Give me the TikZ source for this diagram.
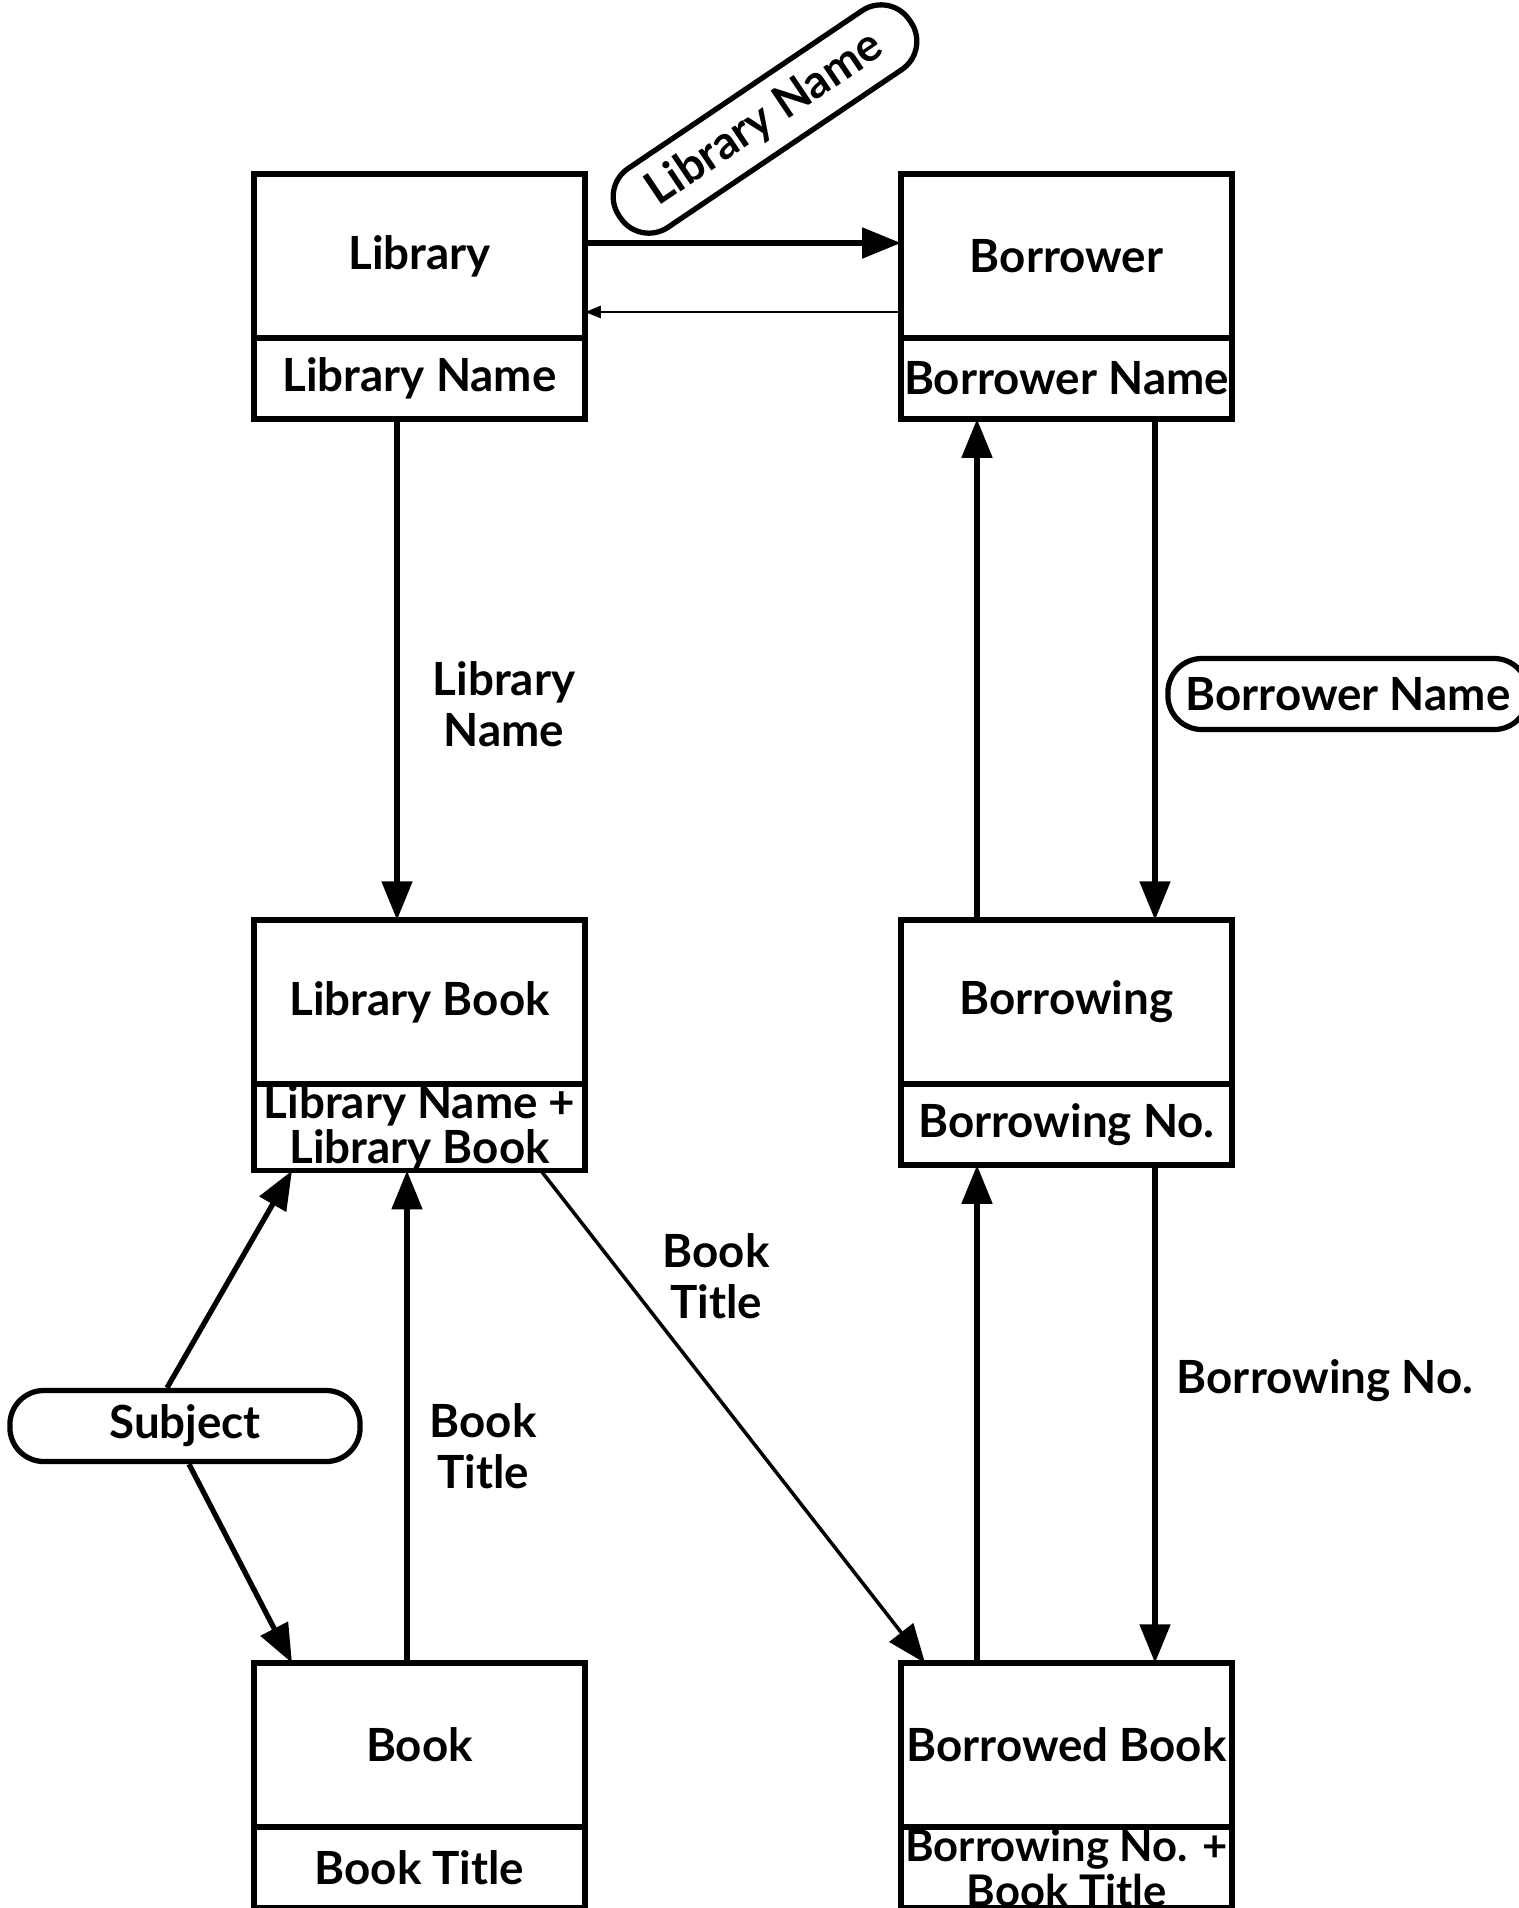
\documentclass[tikz,border=0pt]{standalone}
\usepackage{fontspec}
\setmainfont{Lato}
\usetikzlibrary{positioning,arrows.meta}

\begin{document}
\begin{tikzpicture}[x=0.01cm, y=-0.01cm,
    entity/.style = {draw, line width=1.5pt, outer sep=0pt, inner sep=0pt,
      minimum width=3.31cm, minimum height=1.64cm, font=\fontsize{13}{12.8}\selectfont\bfseries, align=center},
    keybox/.style = {entity, minimum height=0.81cm},
    oval/.style = {draw, line width=1.5pt, rounded corners=0.34cm, inner sep=0pt,
      minimum height=0.71cm, font=\fontsize{13}{13}\selectfont\bfseries},
    flowtext/.style = {align=center, font=\fontsize{13}{14.5}\selectfont\bfseries},
    flow/.style = {line width=1.5pt, -{Triangle[length=11pt, width=8.5pt]}},
    thin/.style = {line width=0.5pt, -{Triangle[length=4.5pt, width=3.5pt]}}]
    \useasboundingbox (0,0) rectangle (1519,1908);
    \node[entity] (lib) at (419.5,256) {Library};
    \node[keybox] (libkey) [below=0pt of lib] {Library Name};
    \node[entity] (bor) at (1066.5,256) {Borrower};
    \node[keybox] (borkey) [below=0pt of bor] {Borrower Name};
    \node[entity] (libbook) at (419.5,1002) {Library Book};
    \node[keybox] (libbookkey) [below=0pt of libbook] {Library Name +\\Library Book};
    \node[entity] (borrowing) at (1066.5,1002) {Borrowing};
    \node[keybox] (borrowingkey) [below=0pt of borrowing] {Borrowing No.};
    \node[entity] (book) at (419.5,1745) {Book};
    \node[keybox] (bookkey) [below=0pt of book] {Book Title};
    \node[entity] (borbook) at (1066.5,1745) {Borrowed Book};
    \node[keybox, font=\fontsize{12.4}{12.8}\selectfont\bfseries] (borbookkey) [below=0pt of borbook] {Borrowing No. +\\Book Title};
    \node[oval, minimum width=3.5cm, rotate=34] (libname) at (765,119) {Library Name};
    \node[oval, minimum width=3.6cm] (borname) at (1348,694) {Borrower Name};
    \node[oval, minimum width=3.5cm] (subject) at (185,1426) {Subject};
    \node[flowtext] (t1) at (504,704) {Library\\Name};
    \node[flowtext] (t2) at (716,1276) {Book\\Title};
    \node[flowtext] (t3) at (483,1446) {Book\\Title};
    \node[flowtext] (t4) at (1325,1381) {Borrowing No.};
    \draw[flow] (lib.east |- 0,243) -- (bor.west |- 0,243);
    \draw[thin] (bor.west |- 0,312) -- (lib.east |- 0,312);
    \draw[flow] (397,0 |- libkey.south) -- (397,0 |- libbook.north);
    \draw[flow] (977,0 |- borrowing.north) -- (977,0 |- borkey.south);
    \draw[flow] (1155,0 |- borkey.south) -- (1155,0 |- borrowing.north);
    \draw[flow] (977,0 |- borbook.north) -- (977,0 |- borrowingkey.south);
    \draw[flow] (1155,0 |- borrowingkey.south) -- (1155,0 |- borbook.north);
    \draw[flow, line width=1pt] (541,0 |- libbookkey.south) -- (925,0 |- borbook.north);
    \draw[flow] (407,0 |- book.north) -- (407,0 |- libbookkey.south);
    \draw[flow] (167,0 |- subject.north) -- (292,0 |- libbookkey.south);
    \draw[flow] (189,0 |- subject.south) -- (292,0 |- book.north);
  \end{tikzpicture}
\end{document}
